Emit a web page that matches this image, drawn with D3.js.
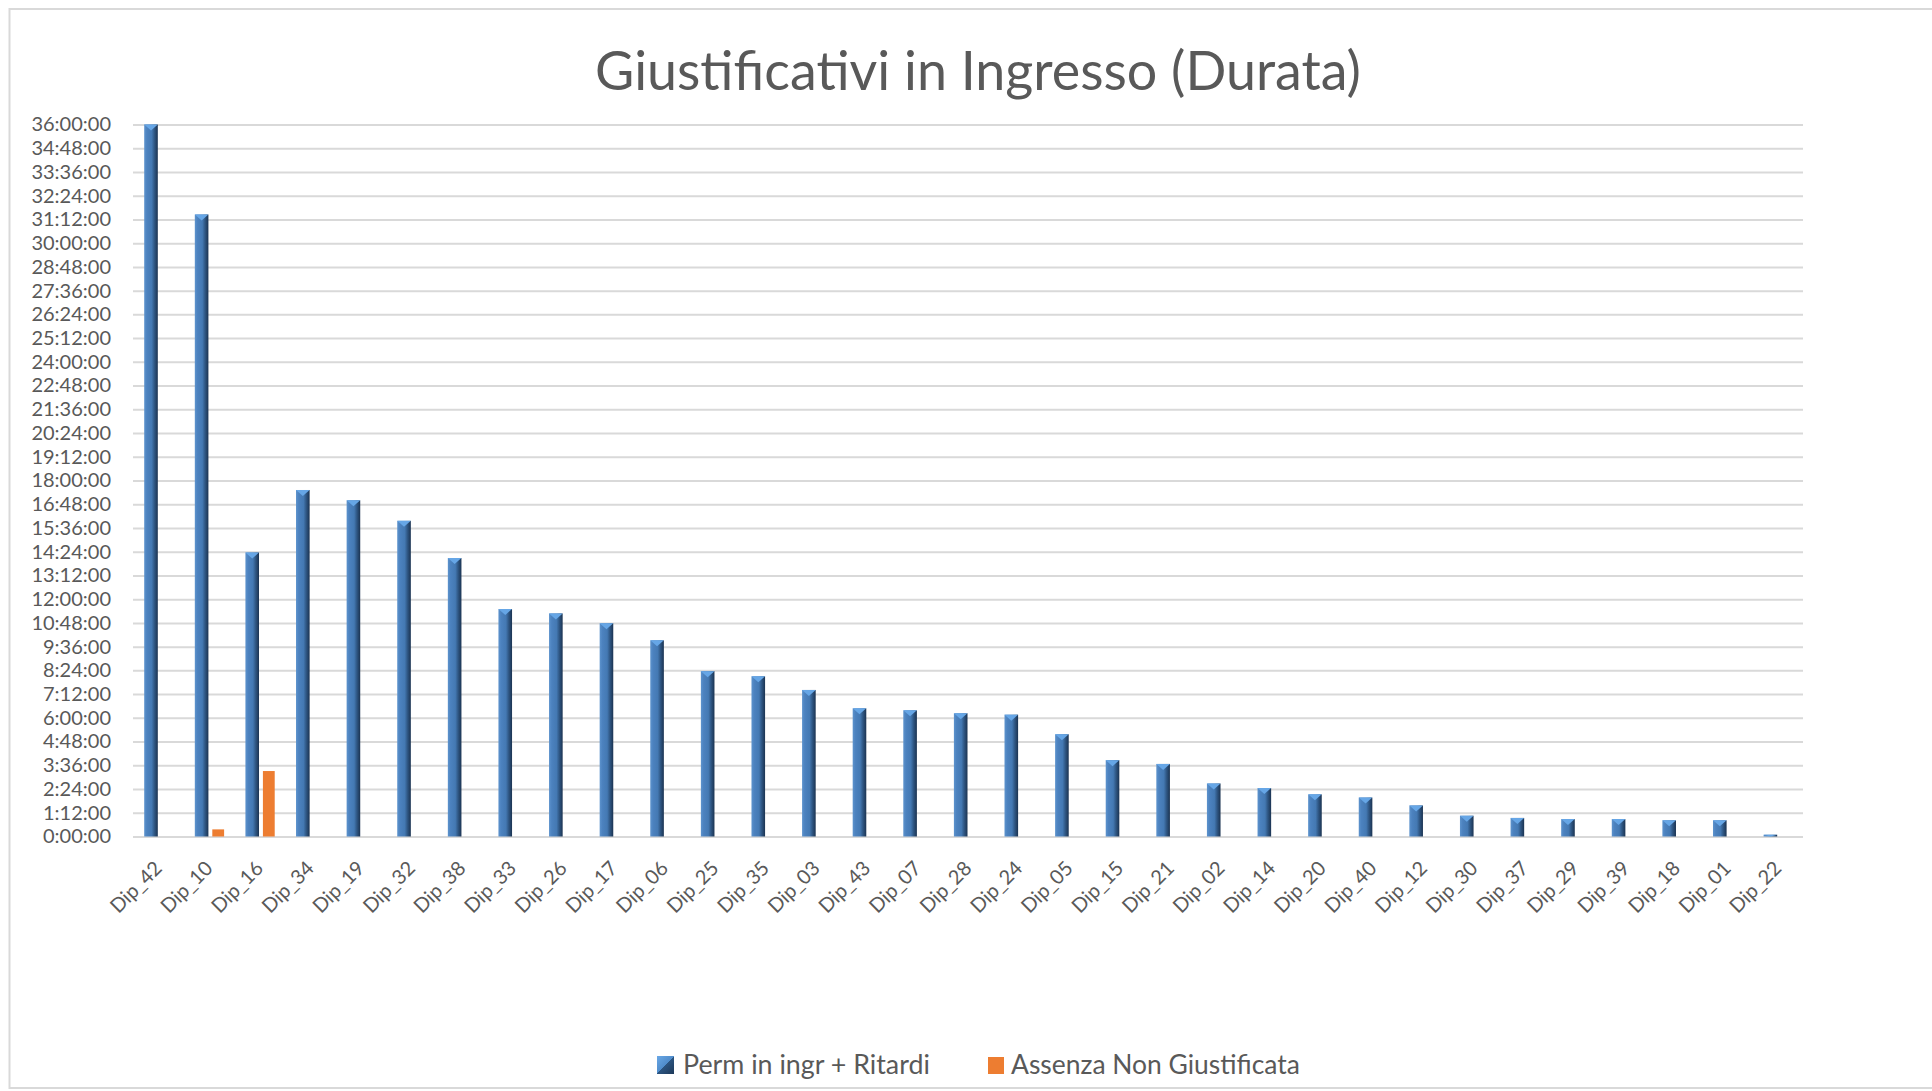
<!DOCTYPE html>
<html>
<head>
<meta charset="utf-8">
<script src="https://cdn.jsdelivr.net/npm/d3@7/dist/d3.min.js"></script>
<style>
    body { margin: 0; background: #fff; }
    text { font-family: Lato, "Open Sans", sans-serif; fill: #595959; }
</style>
</head>
<body>
<svg id="chart" width="1932" height="1091"></svg>
<script>
    "use strict";

    var title = "Giustificativi in Ingresso (Durata)";
    var seriesNames = ["Perm in ingr + Ritardi", "Assenza Non Giustificata"];

    var categories = ["Dip_42", "Dip_10", "Dip_16", "Dip_34", "Dip_19", "Dip_32", "Dip_38", "Dip_33",
        "Dip_26", "Dip_17", "Dip_06", "Dip_25", "Dip_35", "Dip_03", "Dip_43", "Dip_07", "Dip_28",
        "Dip_24", "Dip_05", "Dip_15", "Dip_21", "Dip_02", "Dip_14", "Dip_20", "Dip_40", "Dip_12",
        "Dip_30", "Dip_37", "Dip_29", "Dip_39", "Dip_18", "Dip_01", "Dip_22"];

    // hours
    var permHours = [36.0, 31.45, 14.36, 17.52, 17.0, 15.96, 14.08, 11.5, 11.28, 10.78, 9.92, 8.36,
        8.1, 7.41, 6.48, 6.38, 6.23, 6.16, 5.17, 3.86, 3.67, 2.68, 2.45, 2.13, 1.97, 1.57, 1.05,
        0.94, 0.88, 0.88, 0.82, 0.82, 0.09];
    var assenzaHours = [0, 0.36, 3.31, 0, 0, 0, 0, 0, 0, 0, 0, 0, 0, 0, 0, 0, 0, 0, 0, 0, 0, 0,
        0, 0, 0, 0, 0, 0, 0, 0, 0, 0, 0];

    var yTickLabels = ["0:00:00", "1:12:00", "2:24:00", "3:36:00", "4:48:00", "6:00:00", "7:12:00",
        "8:24:00", "9:36:00", "10:48:00", "12:00:00", "13:12:00", "14:24:00", "15:36:00", "16:48:00",
        "18:00:00", "19:12:00", "20:24:00", "21:36:00", "22:48:00", "24:00:00", "25:12:00",
        "26:24:00", "27:36:00", "28:48:00", "30:00:00", "31:12:00", "32:24:00", "33:36:00",
        "34:48:00", "36:00:00"];

    (function () {
        function toHours(label) {
            var p = label.split(":");
            return +p[0] + p[1] / 60 + p[2] / 3600;
        }
        function fitWidth(sel, w) {
            var fs = parseFloat(sel.attr("font-size"));
            sel.attr("font-size", fs * w / sel.node().getComputedTextLength());
        }

        var svg = d3.select("#chart");
        var m = { left: 133, right: 1803, top: 124.5, bottom: 836.5 };

        // chart border
        svg.append("rect")
            .attr("x", 9.5).attr("y", 9)
            .attr("width", 1940).attr("height", 1079)
            .attr("fill", "none")
            .attr("stroke", "#d9d9d9")
            .attr("stroke-width", 2);

        var defs = svg.append("defs");
        var grad = defs.append("linearGradient").attr("id", "barGrad")
            .attr("x1", "0").attr("x2", "1").attr("y1", "0").attr("y2", "0");
        [[0, "#5d93cd"], [0.2, "#4c82bf"], [0.55, "#4479b3"], [0.75, "#2f5784"], [1, "#1b3351"]]
            .forEach(function (s) {
                grad.append("stop").attr("offset", s[0]).attr("stop-color", s[1]);
            });
        var legGrad = defs.append("linearGradient").attr("id", "legGrad")
            .attr("x1", "0").attr("x2", "1").attr("y1", "0").attr("y2", "1");
        [[0, "#6aa8e6"], [0.5, "#4f8ccb"], [0.5, "#2c5581"], [1, "#1d3858"]]
            .forEach(function (s) {
                legGrad.append("stop").attr("offset", s[0]).attr("stop-color", s[1]);
            });

        var x = d3.scaleBand().domain(categories).range([m.left, m.right]).padding(0);
        var y = d3.scaleLinear().domain([0, 36]).range([m.bottom, m.top]);

        // gridlines + y labels
        var yAxis = d3.axisLeft(y)
            .tickValues(yTickLabels.map(toHours))
            .tickFormat(function (d, i) { return yTickLabels[i]; })
            .tickSize(-(m.right - m.left))
            .tickPadding(22);

        var gy = svg.append("g").attr("transform", "translate(" + m.left + ",0)").call(yAxis);
        gy.select(".domain").remove();
        gy.selectAll(".tick line").attr("stroke", "#d9d9d9").attr("stroke-width", 2);
        gy.selectAll(".tick text").attr("font-size", 20).attr("font-family", null).style("fill", "#595959");

        // bars
        var bw = x.bandwidth();
        var blueOff = 11.2, blueW = 13.6, orangeOff = 28.7, orangeW = 11.8;

        var bars = svg.append("g");
        var blue = bars.selectAll("g.blue")
            .data(categories)
            .enter()
            .append("g")
            .attr("class", "blue");

        blue.append("rect")
            .attr("x", function (d) { return x(d) + blueOff; })
            .attr("y", function (d, i) { return y(permHours[i]); })
            .attr("width", blueW)
            .attr("height", function (d, i) { return y(0) - y(permHours[i]); })
            .attr("fill", "url(#barGrad)");

        blue.append("path")
            .attr("d", function (d, i) {
                var x0 = x(d) + blueOff, y0 = y(permHours[i]);
                var h = Math.min(6, y(0) - y0);
                return "M" + x0 + "," + y0 + "L" + (x0 + blueW) + "," + y0 +
                    "L" + (x0 + blueW / 2) + "," + (y0 + h) + "Z";
            })
            .attr("fill", "#66a6e6");

        bars.selectAll("rect.orange")
            .data(categories.filter(function (d, i) { return assenzaHours[i] > 0; }))
            .enter()
            .append("rect")
            .attr("class", "orange")
            .attr("x", function (d) { return x(d) + orangeOff; })
            .attr("y", function (d) { return y(assenzaHours[categories.indexOf(d)]); })
            .attr("width", orangeW)
            .attr("height", function (d) { return y(0) - y(assenzaHours[categories.indexOf(d)]); })
            .attr("fill", "#ed7d31");

        // x labels
        svg.append("g").selectAll("text")
            .data(categories)
            .enter()
            .append("text")
            .attr("transform", function (d) {
                return "translate(" + (x(d) + bw / 2 + 5) + "," + (m.bottom + 33) + ") rotate(-45)";
            })
            .attr("text-anchor", "end")
            .attr("font-size", 20)
            .text(function (d) { return d; });

        // title
        var t = svg.append("text")
            .attr("x", 978).attr("y", 90)
            .attr("text-anchor", "middle")
            .attr("font-size", 50)
            .text(title);
        fitWidth(t, 766);

        // legend
        var leg = svg.append("g");
        leg.append("rect").attr("x", 657).attr("y", 1056).attr("width", 17).attr("height", 18)
            .attr("fill", "url(#legGrad)");
        fitWidth(leg.append("text").attr("x", 683).attr("y", 1074).attr("font-size", 24).text(seriesNames[0]), 247);
        leg.append("rect").attr("x", 988).attr("y", 1057).attr("width", 16).attr("height", 17)
            .attr("fill", "#ed7d31");
        fitWidth(leg.append("text").attr("x", 1011).attr("y", 1074).attr("font-size", 24).text(seriesNames[1]), 289);
    })();
</script>
</body>
</html>
